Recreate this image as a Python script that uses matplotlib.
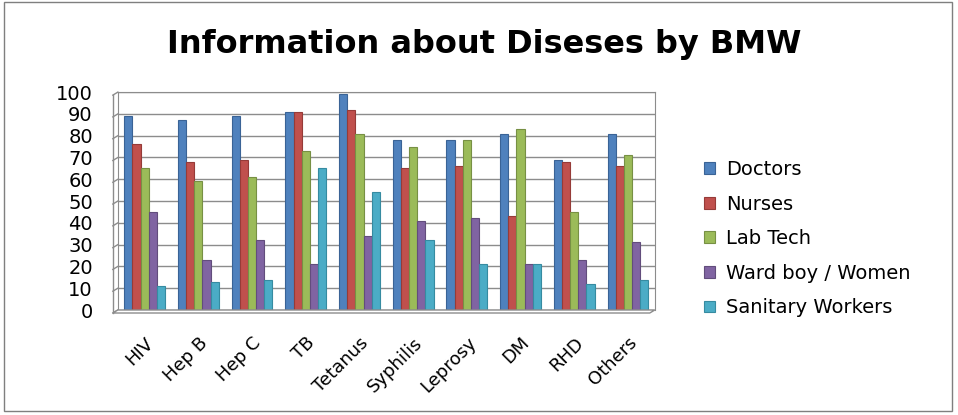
import matplotlib
matplotlib.use("Agg")
import matplotlib.pyplot as plt
import matplotlib.transforms as mtransforms
import numpy as np
from matplotlib.patches import Rectangle, Polygon

categories = ["HIV", "Hep B", "Hep C", "TB", "Tetanus", "Syphilis", "Leprosy", "DM", "RHD", "Others"]
doctors = [89, 87, 89, 91, 99, 78, 78, 81, 69, 81]
nurses = [76, 68, 69, 91, 92, 65, 66, 43, 68, 66]
lab_tech = [65, 59, 61, 73, 81, 75, 78, 83, 45, 71]
ward_boy_women = [45, 23, 32, 21, 34, 41, 42, 21, 23, 31]
sanitary_workers = [11, 13, 14, 65, 54, 32, 21, 21, 12, 14]
series_names = ["Doctors", "Nurses", "Lab Tech", "Ward boy / Women", "Sanitary Workers"]
y_ticks = [0, 10, 20, 30, 40, 50, 60, 70, 80, 90, 100]

series = [doctors, nurses, lab_tech, ward_boy_women, sanitary_workers]
colors = ["#4F81BD", "#C0504D", "#9BBB59", "#8064A2", "#4BACC6"]
edges = ["#3A6396", "#963B38", "#779044", "#624D7C", "#368BA1"]
grid_color = "#8C8C8C"

plt.rcParams["font.family"] = ["DejaVu Sans"]

fig = plt.figure(figsize=(9.58, 4.15), dpi=100)
fig.patches.append(Rectangle((0.004, 0.01), 0.99, 0.985, transform=fig.transFigure,
                             fill=False, edgecolor="#7F7F7F", linewidth=1.0))

ax = fig.add_axes([0.123, 0.253, 0.5605, 0.525])
x = np.arange(len(categories))
bw = 0.152
for i, (vals, c, ec, name) in enumerate(zip(series, colors, edges, series_names)):
    ax.bar(x + (i - 2) * bw, vals, width=bw, color=c, edgecolor=ec, linewidth=0.8,
           label=name, zorder=3)

ax.set_ylim(0, 100)
ax.set_xlim(-0.5, len(categories) - 0.5)
ax.set_yticks(y_ticks)
ax.set_yticklabels([str(v) for v in y_ticks], fontsize=14)
ax.set_xticks(x)
ax.set_xticklabels(categories, rotation=45, ha="right", rotation_mode="anchor", fontsize=13)
ax.tick_params(axis="y", length=0, pad=18)
ax.tick_params(axis="x", length=0, pad=17)
ax.yaxis.grid(True, color=grid_color, linewidth=1.0, zorder=0)
for s in ax.spines.values():
    s.set_color(grid_color)
ax.spines["bottom"].set_visible(False)

# Side wall of the 3-D style plot area: front edge plus slanted grid ends
wall = ax.get_yaxis_transform() + mtransforms.ScaledTranslation(-5 / 100, -3 / 100, fig.dpi_scale_trans)
ax.plot([0, 0], [0, 100], transform=wall, color=grid_color, lw=1.0, clip_on=False)
yt = ax.get_yaxis_transform()
for v in y_ticks:
    p0 = yt.transform((0, v))
    p1 = wall.transform((0, v))
    ax.plot([p0[0], p1[0]], [p0[1], p1[1]], transform=None, color=grid_color, lw=1.0,
            clip_on=False)

# Floor slab under the bars
xt = ax.transAxes
floor_back_l = xt.transform((0, 0))
floor_back_r = xt.transform((1, 0))
dx, dy = -5, -3
floor = Polygon([floor_back_l, floor_back_r,
                 (floor_back_r[0] + dx, floor_back_r[1] + dy),
                 (floor_back_l[0] + dx, floor_back_l[1] + dy)],
                closed=True, transform=None, facecolor="white", edgecolor=grid_color,
                lw=1.0, clip_on=False, zorder=4)
ax.add_artist(floor)

fig.text(0.505, 0.893, "Information about Diseses by BMW", ha="center", va="center",
         fontsize=23, fontweight="bold")

ax.legend(loc="center left", bbox_to_anchor=(0.735, 0.425), bbox_transform=fig.transFigure,
          frameon=False, fontsize=14, borderpad=0, borderaxespad=0,
          handlelength=0.55, handleheight=0.55, labelspacing=0.8, handletextpad=0.6)

fig.savefig("out.png", dpi=100)
